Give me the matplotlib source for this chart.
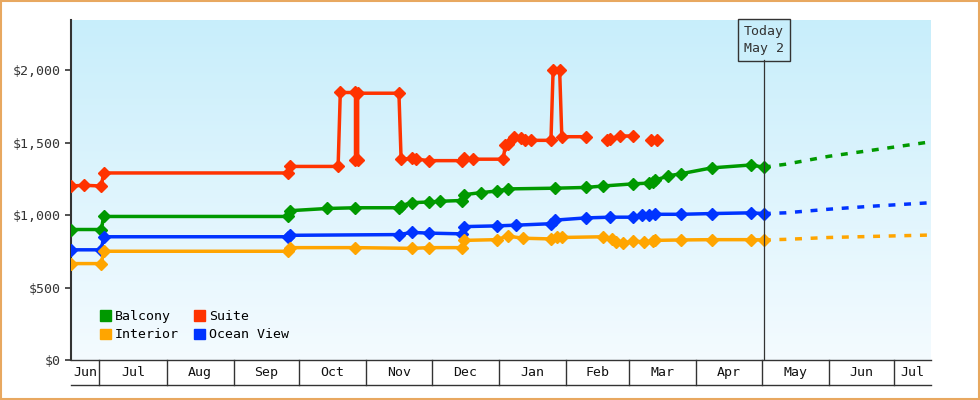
import numpy as np
import matplotlib.pyplot as plt
import matplotlib.dates as mdates
import matplotlib.transforms as mtransforms
from matplotlib.patches import Rectangle
from matplotlib.colors import LinearSegmentedColormap
from datetime import datetime as dt

# price history (date, price); None = gap in the line
suite_dates = ['2023-06-18', '2023-06-24', '2023-07-02', '2023-07-03', '2023-09-26', '2023-09-27',
               '2023-10-19', '2023-10-20', '2023-10-27', '2023-10-27', '2023-10-28', '2023-10-28',
               '2023-11-16', '2023-11-17', '2023-11-22', '2023-11-24', '2023-11-30', '2023-12-15',
               '2023-12-16', '2023-12-20', '2024-01-03', '2024-01-04', '2024-01-05', '2024-01-08',
               '2024-01-11', '2024-01-13', '2024-01-16', '2024-01-25', '2024-01-26', '2024-01-29',
               '2024-01-30', '2024-02-10', '2024-02-15', '2024-02-20', '2024-02-21', '2024-02-26',
               '2024-03-03', '2024-03-08', '2024-03-11', '2024-03-14']
suite_prices = [1200, 1205, 1200, 1290, 1290, 1335,
                1335, 1845, 1845, 1380, 1380, 1840,
                1840, 1385, 1390, 1385, 1375, 1375,
                1390, 1385, 1385, 1480, 1490, 1535,
                1530, 1520, 1515, 1515, 2000, 2000,
                1540, 1540, None, 1520, 1525, 1545,
                1545, None, 1520, 1520]

balcony_dates = ['2023-06-18', '2023-07-02', '2023-07-03', '2023-09-26', '2023-09-27', '2023-10-14',
                 '2023-10-27', '2023-11-16', '2023-11-17', '2023-11-22', '2023-11-30', '2023-12-05',
                 '2023-12-15', '2023-12-16', '2023-12-24', '2023-12-31', '2024-01-05', '2024-01-27',
                 '2024-02-10', '2024-02-18', '2024-03-03', '2024-03-10', '2024-03-12', '2024-03-13',
                 '2024-03-19', '2024-03-25', '2024-04-08', '2024-04-26', '2024-05-02']
balcony_prices = [900, 900, 990, 990, 1030, 1045,
                  1050, 1050, 1065, 1085, 1090, 1095,
                  1100, 1140, 1155, 1165, 1180, 1185,
                  1190, 1200, 1215, 1220, 1225, 1240,
                  1270, 1285, 1325, 1345, 1330]

ocean_dates = ['2023-06-18', '2023-07-02', '2023-07-03', '2023-09-26', '2023-09-27', '2023-11-16',
               '2023-11-22', '2023-11-30', '2023-12-15', '2023-12-16', '2023-12-31', '2024-01-09',
               '2024-01-25', '2024-01-27', '2024-02-10', '2024-02-21', '2024-03-03', '2024-03-07',
               '2024-03-10', '2024-03-13', '2024-03-25', '2024-04-08', '2024-04-26', '2024-05-02']
ocean_prices = [760, 760, 850, 850, 860, 865,
                880, 875, 870, 920, 925, 930,
                940, 965, 980, 985, 985, 1000,
                1000, 1005, 1005, 1010, 1015, 1010]

interior_dates = ['2023-06-18', '2023-07-02', '2023-07-03', '2023-09-26', '2023-09-27', '2023-10-27',
                  '2023-11-22', '2023-11-30', '2023-12-15', '2023-12-16', '2023-12-31', '2024-01-05',
                  '2024-01-12', '2024-01-25', '2024-01-28', '2024-01-30', '2024-02-18', '2024-02-22',
                  '2024-02-24', '2024-02-27', '2024-03-03', '2024-03-08', '2024-03-12', '2024-03-13',
                  '2024-03-25', '2024-04-08', '2024-04-26', '2024-05-02']
interior_prices = [665, 665, 750, 750, 775, 775,
                   770, 775, 775, 825, 830, 855,
                   840, 835, 845, 845, 850, 835,
                   815, 805, 820, 815, 820, 825,
                   828, 830, 830, 828]

# forecast after today
forecast_dates = ['2024-05-02', '2024-05-12', '2024-06-01', '2024-06-20', '2024-07-18']
balcony_fc = [1330, 1350, 1405, 1445, 1505]
ocean_fc = [1010, 1015, 1040, 1060, 1085]
interior_fc = [828, 832, 845, 852, 862]

month_edges = ['2023-06-18', '2023-07-01', '2023-08-01', '2023-09-01', '2023-10-01', '2023-11-01',
               '2023-12-01', '2024-01-01', '2024-02-01', '2024-03-01', '2024-04-01', '2024-05-01',
               '2024-06-01', '2024-07-01', '2024-07-18']
month_labels = ['Jun', 'Jul', 'Aug', 'Sep', 'Oct', 'Nov', 'Dec', 'Jan', 'Feb', 'Mar', 'Apr', 'May', 'Jun', 'Jul']

yticks = [0, 500, 1000, 1500, 2000]
today = '2024-05-02'

GREEN = '#009900'
RED = '#ff3300'
ORANGE = '#ffa500'
BLUE = '#0033ff'


def to_num(dates):
    return [mdates.date2num(dt.strptime(d, '%Y-%m-%d')) for d in dates]


def to_vals(vals):
    return [np.nan if v is None else v for v in vals]


plt.rcParams['font.family'] = 'DejaVu Sans Mono'

fig = plt.figure(figsize=(9.8, 4.0), dpi=100)
fig.patches.append(Rectangle((0.001, 0.002), 0.998, 0.996, transform=fig.transFigure,
                             fill=False, edgecolor='#e8a860', linewidth=1.5))
ax = fig.add_axes([71 / 980, 40 / 400, 860 / 980, 340 / 400])

xmin, xmax = to_num(['2023-06-18', '2024-07-18'])
ymax = 2345
ax.set_xlim(xmin, xmax)
ax.set_ylim(0, ymax)

# gradient background, light blue at top fading to white
grad = np.linspace(0, 1, 256).reshape(-1, 1)
cmap = LinearSegmentedColormap.from_list('bg', ['#f4fbff', '#c8eefb'])
ax.imshow(grad, cmap=cmap, aspect='auto', origin='lower', extent=[xmin, xmax, 0, ymax], zorder=0)

series = [(suite_dates, suite_prices, RED), (balcony_dates, balcony_prices, GREEN),
          (ocean_dates, ocean_prices, BLUE), (interior_dates, interior_prices, ORANGE)]
for dates, prices, col in series:
    ax.plot(to_num(dates), to_vals(prices), color=col, linewidth=2.5, marker='D',
            markersize=6, zorder=3)

for fc, col in [(balcony_fc, GREEN), (ocean_fc, BLUE), (interior_fc, ORANGE)]:
    ax.plot(to_num(forecast_dates), fc, color=col, linewidth=2.5, linestyle=(0, (2, 2.5)), zorder=3)

# today marker
tx = to_num([today])[0]
ax.axvline(tx, color='#333333', linewidth=0.9, ymax=0.883, zorder=4)
ax.text(tx, 2210, 'Today\nMay 2', ha='center', va='center', fontsize=9.5, color='#333333',
        linespacing=1.4, zorder=5,
        bbox=dict(boxstyle='square,pad=0.45', facecolor='none', edgecolor='#333333', linewidth=1))

# y axis
ax.set_yticks(yticks)
ax.set_yticklabels(['${:,}'.format(v) for v in yticks], fontsize=9.5, color='#333333')
ax.tick_params(axis='y', direction='out', length=4, width=1.2, color='#333333')
ax.set_xticks([])
for s in ['top', 'right']:
    ax.spines[s].set_visible(False)
ax.spines['left'].set_linewidth(1.5)
ax.spines['left'].set_color('#333333')
ax.spines['bottom'].set_linewidth(1)
ax.spines['bottom'].set_color('#333333')

# month band below the axis
trans = mtransforms.blended_transform_factory(ax.transData, ax.transAxes)
band = -25 / 340
edges = to_num(month_edges)
for e in edges[1:-1]:
    ax.plot([e, e], [0, band], color='#333333', linewidth=1, transform=trans, clip_on=False)
ax.plot([xmin, xmax], [band, band], color='#333333', linewidth=1, transform=trans, clip_on=False)
for i, lab in enumerate(month_labels):
    ax.text((edges[i] + edges[i + 1]) / 2, band / 2, lab, ha='center', va='center',
            fontsize=9.5, color='#111111', transform=trans)

# legend
handles = [Rectangle((0, 0), 1, 1, color=c) for c in [GREEN, ORANGE, RED, BLUE]]
ax.legend(handles, ['Balcony', 'Interior', 'Suite', 'Ocean View'], ncol=2, loc='lower left',
          bbox_to_anchor=(0.02, 0.02), frameon=False, fontsize=9.5, handlelength=0.8,
          handleheight=0.8, handletextpad=0.3, columnspacing=1.2, labelspacing=0.4)

fig.savefig('out.png', dpi=100)
